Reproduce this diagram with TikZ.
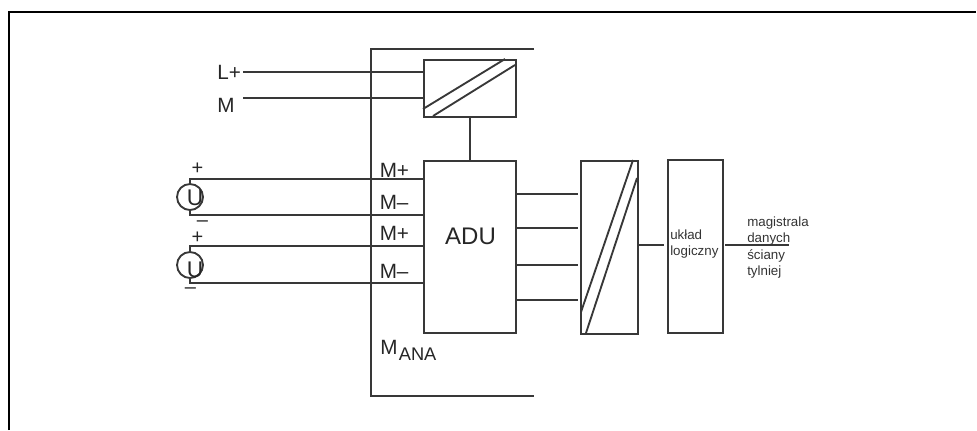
\documentclass[tikz,border=0pt]{standalone}
\usepackage{fontspec}
\setmainfont{Liberation Sans}
\tikzset{
 x=0.75pt,y=-0.75pt,
 wire/.style={draw=black!78,line width=1.4pt},
 blockbox/.style={draw=black!78,line width=1.4pt,fill=none,inner sep=0pt,anchor=north west},
 big/.style={font=\fontsize{15.5}{18}\selectfont,text=black!85,inner sep=0pt},
 pol/.style={font=\fontsize{15}{16}\selectfont,text=black!85,inner sep=0pt},
 small/.style={font=\fontsize{10}{12}\selectfont,text=black!80,inner sep=0pt,align=left},
 src/.style={circle,draw=black!78,line width=1.4pt,minimum size=19.5pt,inner sep=0pt},
 ulabel/.style={font=\fontsize{17}{18}\selectfont,text=black!85,inner sep=0pt}
}
\begin{document}
\begin{tikzpicture}
\useasboundingbox (0,0) rectangle (977,430);
\draw[line width=1.5pt,black] (9,430) -- (9,12) -- (976,12);
% housing
\coordinate (ht) at (534,49);
\coordinate (hb) at (534,396);
\draw[wire] (ht) -- (371,49) -- (371,396) -- (hb);
% psu
\node[blockbox,minimum width=69pt,minimum height=42.75pt] (psu) at (423,59) {};
\draw[wire] (423,109) -- (505,59) (433,116) -- (515,65);
\coordinate (lp) at (243,72);
\coordinate (mm) at (243,98);
\draw[wire] (lp) -- (lp-|psu.west);
\draw[wire] (mm) -- (mm-|psu.west);
\node[big,anchor=west] (tl) at (217,72) {L+};
\node[big,anchor=west] (tm) at (217,105) {M};
% adu
\node[blockbox,minimum width=69pt,minimum height=129pt] (adu) at (423,160) {};
\node[font=\fontsize{18}{20}\selectfont,text=black!85,inner sep=0pt] (adut) at (470.5,236) {ADU};
\draw[wire] (psu.south) -- (adu.north);
% sources
\node[src] (u1) at (190,197) {};
\node[src] (u2) at (190,265) {};
\node[ulabel] (ul1) at (195,198) {U};
\node[ulabel] (ul2) at (195,270) {U};
\coordinate (a1) at (190,179);
\coordinate (a2) at (190,215);
\coordinate (a3) at (190,246);
\coordinate (a4) at (190,283);
\draw[wire] (u1.north) -- (a1) -- (a1-|adu.west);
\draw[wire] (u1.south) -- (a2) -- (a2-|adu.west);
\draw[wire] (u2.north) -- (a3) -- (a3-|adu.west);
\draw[wire] (u2.south) -- (a4) -- (a4-|adu.west);
\node[pol] (p1) at (197.5,168.5) {+};
\node[pol] (n1) at (202.5,224) {–};
\node[pol] (p2) at (197.5,237.5) {+};
\node[pol] (n2) at (190.5,291) {–};
\node[big,anchor=west] (t1) at (379.5,170) {M+};
\node[big,anchor=west] (t2) at (379.5,202) {M–};
\node[big,anchor=west] (t3) at (379.5,233.5) {M+};
\node[big,anchor=west] (t4) at (379.5,271) {M–};
\node[big,anchor=west] (tm2) at (380,350) {M\hspace{1pt}\raisebox{-4.5pt}{\fontsize{13.7}{15}\selectfont ANA}};
% converter
\node[blockbox,minimum width=42.75pt,minimum height=129.5pt] (dac) at (580,160) {};
\draw[wire] (581,312) -- (633,160) (586,333) -- (637,178);
\foreach \y/\n in {194/b1,228/b2,265/b3,300/b4}{
 \coordinate (\n) at (515,\y);
 \coordinate (\n e) at (578,\y);
 \draw[wire] (\n) -- (\n e);
}
% logic
\node[blockbox,minimum width=41.25pt,minimum height=129.5pt] (log) at (667,159) {};
\node[small,anchor=west] (logt) at (670,244) {układ\\logiczny};
\coordinate (dl) at (637,245);
\coordinate (dle) at (664,245);
\draw[wire] (dl) -- (dle);
\coordinate (bs) at (725,245);
\coordinate (be) at (789,245);
\draw[wire] (bs) -- (be);
\node[small,anchor=west,align=left,font=\fontsize{10}{12.2}\selectfont] (bus) at (747,247.5) {magistrala\\danych\\ściany\\tylniej};
\end{tikzpicture}
\end{document}
